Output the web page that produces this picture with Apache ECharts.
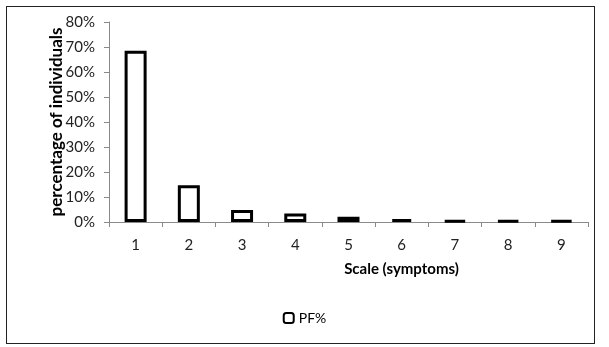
<!DOCTYPE html>
<html><head><meta charset="utf-8">
<script src="https://cdn.jsdelivr.net/npm/echarts@6/dist/echarts.min.js"></script>
<style>html,body{margin:0;padding:0;background:#fff}#c{width:609px;height:347px}
#frame{position:absolute;left:6px;top:6px;width:589px;height:338px;border:1px solid #222;box-sizing:border-box;pointer-events:none}</style>
</head><body>
<div id="c"></div><div id="frame"></div>
<script>
const categories = ['1','2','3','4','5','6','7','8','9'];
const pfValues = [68.5, 14.7, 4.8, 3.4, 2.1, 1.2, 0.6, 0.6, 0.6];
const seriesName = 'PF%';
const xTitle = 'Scale (symptoms)';
const yTitle = 'percentage of individuals';

const chart = echarts.init(document.getElementById('c'));
chart.setOption({
  animation: false,
  textStyle: {fontFamily: 'Lato'},
  grid: {left: 109, right: 21, top: 22, bottom: 125},
  legend: {
    data: [seriesName], bottom: 17, left: 'center', itemWidth: 10, itemHeight: 10, itemGap: 4,
    textStyle: {fontSize: 14, color: '#000', fontFamily: 'Lato'}
  },
  xAxis: {
    type: 'category', data: categories,
    name: xTitle, nameLocation: 'middle', nameGap: 40, nameMoveOverlap: false,
    nameTextStyle: {fontSize: 15, fontWeight: 'bold', color: '#000', fontFamily: 'Lato', padding: [0, 0, 0, 106]},
    axisLine: {lineStyle: {color: '#8a8a8a'}},
    axisTick: {show: true, length: 5, lineStyle: {color: '#8a8a8a'}},
    axisLabel: {fontSize: 15, color: '#222', margin: 16}
  },
  yAxis: {
    type: 'value', min: 0, max: 80, interval: 10,
    name: yTitle, nameLocation: 'middle', nameGap: 44, nameRotate: 90, nameMoveOverlap: false,
    nameTextStyle: {fontSize: 17, fontWeight: 'bold', color: '#000', fontFamily: 'Lato'},
    axisLine: {show: true, lineStyle: {color: '#8a8a8a'}},
    axisTick: {show: true, length: 5, lineStyle: {color: '#8a8a8a'}},
    splitLine: {show: false},
    axisLabel: {fontSize: 15, color: '#222', margin: 14, formatter: v => v + '%'}
  },
  series: [{
    name: seriesName, type: 'bar', data: pfValues, barWidth: 22,
    itemStyle: {color: '#fff', borderColor: '#000', borderWidth: 3}
  }]
});
</script>
</body></html>
